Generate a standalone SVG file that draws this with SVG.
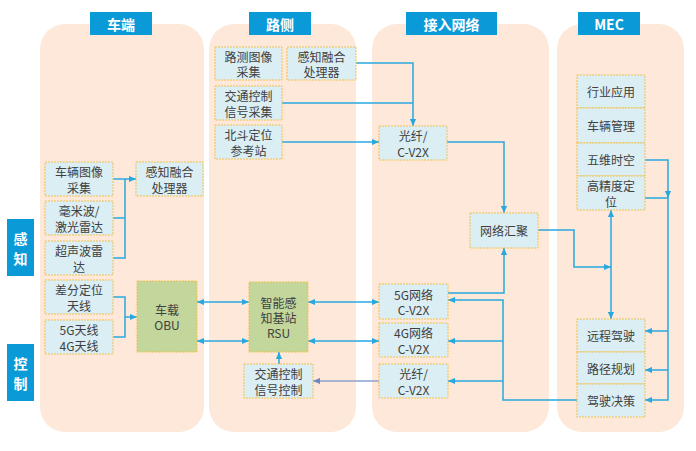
<svg xmlns="http://www.w3.org/2000/svg" width="696" height="451" viewBox="0 0 696 451">
<defs>
<style>
.panel{fill:#fde8da;}
.hdr{fill:#0a9ad8;}
.hdrt{fill:#ffffff;font-family:"Noto Sans CJK SC","Liberation Sans",sans-serif;font-size:14px;font-weight:bold;text-anchor:middle;dominant-baseline:central;}
.box{fill:#dbeef4;stroke:#f2c14e;stroke-width:1;stroke-dasharray:2 1;}
.gbox{fill:#c3d69b;stroke:#f2c14e;stroke-width:1;stroke-dasharray:2 1;}
.t{fill:#404040;font-family:"Noto Sans CJK SC","Liberation Sans",sans-serif;font-size:12px;text-anchor:middle;dominant-baseline:central;}
.c{fill:none;stroke:#29a8e0;stroke-width:1.5;}
.c2{fill:none;stroke:#8da2cf;stroke-width:1.5;}
</style>
<marker id="a" viewBox="0 0 8 8" refX="8" refY="4" markerWidth="7" markerHeight="7" markerUnits="userSpaceOnUse" orient="auto-start-reverse"><path d="M0,0.5 L8,4 L0,7.5 z" fill="#29a8e0"/></marker>
<marker id="a2" viewBox="0 0 8 8" refX="8" refY="4" markerWidth="7" markerHeight="7" markerUnits="userSpaceOnUse" orient="auto-start-reverse"><path d="M0,0.5 L8,4 L0,7.5 z" fill="#6f86bd"/></marker>
</defs>
<rect width="696" height="451" fill="#ffffff"/>
<g id="panels">
<rect class="panel" x="40" y="24" width="164" height="408" rx="25"/>
<rect class="panel" x="209" y="24" width="147" height="408" rx="25"/>
<rect class="panel" x="372" y="24" width="177" height="408" rx="25"/>
<rect class="panel" x="557" y="24" width="127" height="408" rx="25"/>
</g>
<g id="headers">
<rect class="hdr" x="90" y="12" width="62" height="23"/><text class="hdrt" x="121" y="23.5">车端</text>
<rect class="hdr" x="249" y="12" width="62" height="23"/><text class="hdrt" x="280" y="23.5">路侧</text>
<rect class="hdr" x="406" y="12" width="91" height="23"/><text class="hdrt" x="451.5" y="23.5">接入网络</text>
<rect class="hdr" x="578" y="12" width="62" height="23"/><text class="hdrt" x="609" y="23.5">MEC</text>
<rect class="hdr" x="7" y="219" width="27" height="57"/><text class="hdrt" x="20.5" y="238">感<tspan x="20.5" dy="20">知</tspan></text>
<rect class="hdr" x="7" y="344" width="27" height="57"/><text class="hdrt" x="20.5" y="363">控<tspan x="20.5" dy="20">制</tspan></text>
</g>
<g id="connectors">
<path class="c" d="M113,179 H136" marker-end="url(#a)"/>
<path class="c" d="M113,218 H125"/>
<path class="c" d="M113,258 H125 V179"/>
<path class="c" d="M113,297 H125 V337 H113"/>
<path class="c" d="M125,317 H137" marker-end="url(#a)"/>
<path class="c" d="M197,302 H249" marker-start="url(#a)" marker-end="url(#a)"/>
<path class="c" d="M197,341 H249" marker-start="url(#a)" marker-end="url(#a)"/>
<path class="c" d="M308,302 H379" marker-start="url(#a)" marker-end="url(#a)"/>
<path class="c" d="M308,341 H379" marker-start="url(#a)" marker-end="url(#a)"/>
<path class="c" d="M279,364 V352" marker-end="url(#a)"/>
<path class="c2" d="M379,381 H313" marker-end="url(#a2)"/>
<path class="c" d="M356,63 H413 V126" marker-end="url(#a)"/>
<path class="c" d="M282,103 H413"/>
<path class="c" d="M282,142 H379" marker-end="url(#a)"/>
<path class="c" d="M447,142 H504 V213" marker-end="url(#a)"/>
<path class="c" d="M448,293 H504 V248" marker-end="url(#a)"/>
<path class="c" d="M577,400 H503 V300 H448" marker-end="url(#a)"/>
<path class="c" d="M503,341 H448" marker-end="url(#a)"/>
<path class="c" d="M503,381 H448" marker-end="url(#a)"/>
<path class="c" d="M538,230 H574 V267 H611" marker-end="url(#a)"/>
<path class="c" d="M611,319 V210" marker-start="url(#a)" marker-end="url(#a)"/>
<path class="c" d="M645,160 H668 V198" marker-end="url(#a)"/>
<path class="c" d="M645,198 H668 V400 H645" marker-end="url(#a)"/>
<path class="c" d="M668,331 H645" marker-end="url(#a)"/>
<path class="c" d="M668,370 H645" marker-end="url(#a)"/>
</g>
<g id="n-cam"><rect class="box" x="45" y="162" width="68" height="34"/><text class="t" x="79" y="171.5">车辆图像<tspan x="79" dy="15">采集</tspan></text></g>
<g id="n-radar"><rect class="box" x="45" y="201" width="68" height="34"/><text class="t" x="79" y="210.5">毫米波/<tspan x="79" dy="15">激光雷达</tspan></text></g>
<g id="n-ultra"><rect class="box" x="45" y="241" width="68" height="34"/><text class="t" x="79" y="250.5">超声波雷<tspan x="79" dy="15">达</tspan></text></g>
<g id="n-fuse1"><rect class="box" x="136" y="162" width="67" height="34"/><text class="t" x="169.5" y="171.5">感知融合<tspan x="169.5" dy="15">处理器</tspan></text></g>
<g id="n-diff"><rect class="box" x="45" y="280" width="68" height="34"/><text class="t" x="79" y="289.5">差分定位<tspan x="79" dy="15">天线</tspan></text></g>
<g id="n-ant"><rect class="box" x="45" y="320" width="68" height="34"/><text class="t" x="79" y="329.5">5G天线<tspan x="79" dy="15">4G天线</tspan></text></g>
<g id="n-obu"><rect class="gbox" x="137" y="281" width="60" height="71"/><text class="t" x="167" y="309">车载<tspan x="167" dy="15">OBU</tspan></text></g>
<g id="n-rcam"><rect class="box" x="215" y="47" width="67" height="33"/><text class="t" x="248.5" y="56">路测图像<tspan x="248.5" dy="15">采集</tspan></text></g>
<g id="n-fuse2"><rect class="box" x="287" y="47" width="69" height="33"/><text class="t" x="321.5" y="56">感知融合<tspan x="321.5" dy="15">处理器</tspan></text></g>
<g id="n-sigc"><rect class="box" x="215" y="86" width="67" height="34"/><text class="t" x="248.5" y="95.5">交通控制<tspan x="248.5" dy="15">信号采集</tspan></text></g>
<g id="n-bd"><rect class="box" x="215" y="125" width="67" height="34"/><text class="t" x="248.5" y="134.5">北斗定位<tspan x="248.5" dy="15">参考站</tspan></text></g>
<g id="n-rsu"><rect class="gbox" x="249" y="282" width="59" height="70"/><text class="t" x="278.5" y="302">智能感<tspan x="278.5" dy="15">知基站</tspan><tspan x="278.5" dy="15">RSU</tspan></text></g>
<g id="n-sigctl"><rect class="box" x="244" y="364" width="69" height="34"/><text class="t" x="278.5" y="373.5">交通控制<tspan x="278.5" dy="15">信号控制</tspan></text></g>
<g id="n-fiber1"><rect class="box" x="379" y="126" width="68" height="34"/><text class="t" x="413" y="135.5">光纤/<tspan x="413" dy="15">C-V2X</tspan></text></g>
<g id="n-agg"><rect class="box" x="470" y="213" width="68" height="35"/><text class="t" x="504" y="230.5">网络汇聚</text></g>
<g id="n-5g"><rect class="box" x="379" y="284" width="69" height="35"/><text class="t" x="413.5" y="294">5G网络<tspan x="413.5" dy="15">C-V2X</tspan></text></g>
<g id="n-4g"><rect class="box" x="379" y="323" width="69" height="34"/><text class="t" x="413.5" y="332.5">4G网络<tspan x="413.5" dy="15">C-V2X</tspan></text></g>
<g id="n-fiber2"><rect class="box" x="379" y="364" width="69" height="34"/><text class="t" x="413.5" y="373.5">光纤/<tspan x="413.5" dy="15">C-V2X</tspan></text></g>
<g id="n-app"><rect class="box" x="577" y="75" width="68" height="33"/><text class="t" x="611" y="91.5">行业应用</text></g>
<g id="n-vm"><rect class="box" x="577" y="108" width="68" height="35"/><text class="t" x="611" y="125.5">车辆管理</text></g>
<g id="n-5d"><rect class="box" x="577" y="143" width="68" height="33"/><text class="t" x="611" y="159.5">五维时空</text></g>
<g id="n-hp"><rect class="box" x="577" y="176" width="68" height="34"/><text class="t" x="611" y="185.5">高精度定<tspan x="611" dy="15">位</tspan></text></g>
<g id="n-rd"><rect class="box" x="577" y="319" width="68" height="33"/><text class="t" x="611" y="335.5">远程驾驶</text></g>
<g id="n-pp"><rect class="box" x="577" y="352" width="68" height="32"/><text class="t" x="611" y="368">路径规划</text></g>
<g id="n-dd"><rect class="box" x="577" y="384" width="68" height="33"/><text class="t" x="611" y="400.5">驾驶决策</text></g>
</svg>
